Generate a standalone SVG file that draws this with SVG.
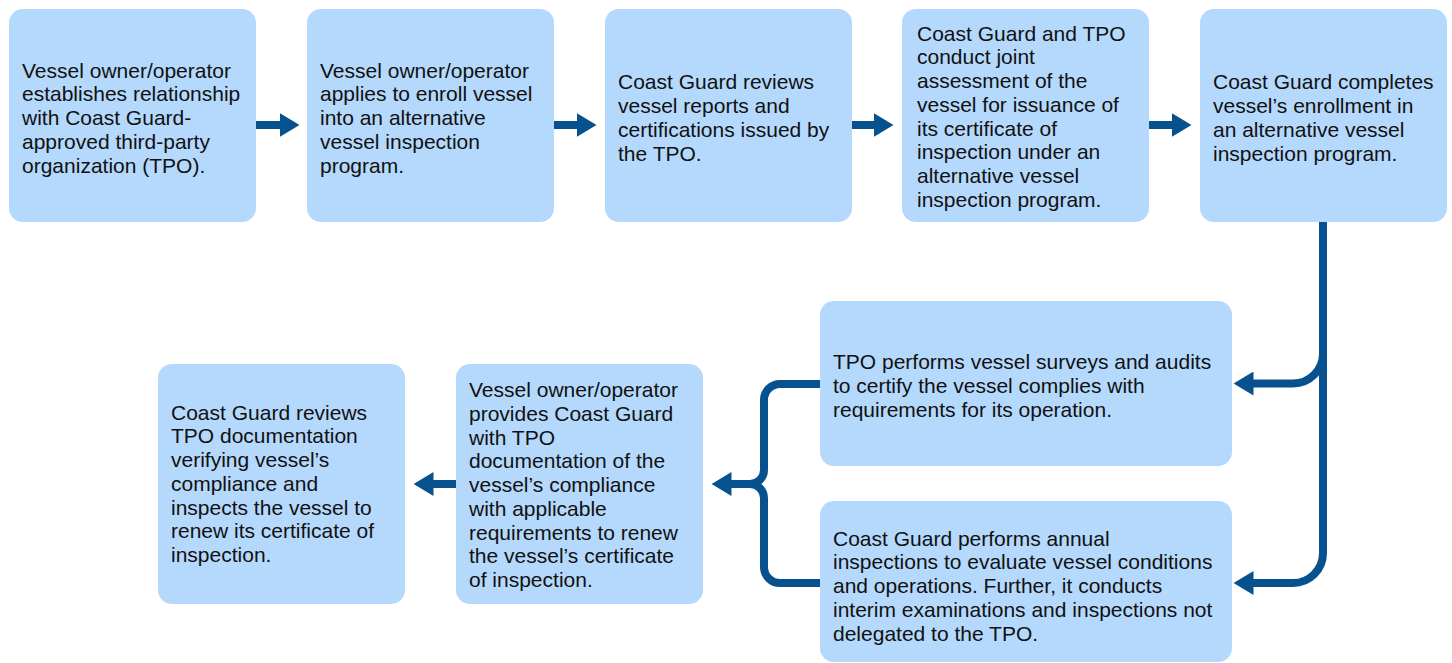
<svg xmlns="http://www.w3.org/2000/svg" width="1452" height="663" viewBox="0 0 1452 663">
  <style>
    .box { fill: #B4D9FC; }
    .lbl { font-family: "Liberation Sans", Arial, sans-serif; font-size: 21px; fill: #111111; }
    .conn { fill: none; stroke: #08518F; stroke-width: 8; }
  </style>
  <defs>
    <marker id="ah" markerUnits="userSpaceOnUse" markerWidth="20" markerHeight="24" viewBox="0 0 20 24" refX="0.5" refY="12" orient="auto">
      <path d="M0,0 L20,12 L0,24 z" fill="#08518F"/>
    </marker>
  </defs>
  <rect width="1452" height="663" fill="#ffffff"/>

  <g id="connectors">
    <path class="conn" d="M256,125 H280" marker-end="url(#ah)"/>
    <path class="conn" d="M553,125 H577" marker-end="url(#ah)"/>
    <path class="conn" d="M851,125 H874" marker-end="url(#ah)"/>
    <path class="conn" d="M1149,125 H1172" marker-end="url(#ah)"/>
    <path class="conn" d="M1323,222 V353 A30,30 0 0 1 1293,383.5 H1253" marker-end="url(#ah)"/>
    <path class="conn" d="M1323,222 V553 A30,30 0 0 1 1293,583 H1253" marker-end="url(#ah)"/>
    <path class="conn" d="M820,384 H780 A16,16 0 0 0 764,400 V470 A14,14 0 0 1 750,484 H731" marker-end="url(#ah)"/>
    <path class="conn" d="M820,583 H780 A16,16 0 0 1 764,567 V498 A14,14 0 0 0 750,484 H744"/>
    <path class="conn" d="M456,484 H433" marker-end="url(#ah)"/>
  </g>

  <g id="n1">
    <rect class="box" x="9" y="9" width="247" height="213" rx="14"/>
    <text class="lbl">
      <tspan x="22" y="77.5">Vessel owner/operator</tspan>
      <tspan x="22" y="101.25">establishes relationship</tspan>
      <tspan x="22" y="125">with Coast Guard-</tspan>
      <tspan x="22" y="148.75">approved third-party</tspan>
      <tspan x="22" y="172.5">organization (TPO).</tspan>
    </text>
  </g>

  <g id="n2">
    <rect class="box" x="307" y="9" width="247" height="213" rx="14"/>
    <text class="lbl">
      <tspan x="320" y="77.5">Vessel owner/operator</tspan>
      <tspan x="320" y="101.25">applies to enroll vessel</tspan>
      <tspan x="320" y="125">into an alternative</tspan>
      <tspan x="320" y="148.75">vessel inspection</tspan>
      <tspan x="320" y="172.5">program.</tspan>
    </text>
  </g>

  <g id="n3">
    <rect class="box" x="605" y="9" width="247" height="213" rx="14"/>
    <text class="lbl">
      <tspan x="618" y="89.4">Coast Guard reviews</tspan>
      <tspan x="618" y="113.15">vessel reports and</tspan>
      <tspan x="618" y="136.9">certifications issued by</tspan>
      <tspan x="618" y="160.65">the TPO.</tspan>
    </text>
  </g>

  <g id="n4">
    <rect class="box" x="902" y="9" width="247" height="213" rx="14"/>
    <text class="lbl">
      <tspan x="917" y="40.5">Coast Guard and TPO</tspan>
      <tspan x="917" y="64.25">conduct joint</tspan>
      <tspan x="917" y="88">assessment of the</tspan>
      <tspan x="917" y="111.75">vessel for issuance of</tspan>
      <tspan x="917" y="135.5">its certificate of</tspan>
      <tspan x="917" y="159.25">inspection under an</tspan>
      <tspan x="917" y="183">alternative vessel</tspan>
      <tspan x="917" y="206.75">inspection program.</tspan>
    </text>
  </g>

  <g id="n5">
    <rect class="box" x="1200" y="9" width="247" height="213" rx="14"/>
    <text class="lbl">
      <tspan x="1213" y="89.4">Coast Guard completes</tspan>
      <tspan x="1213" y="113.15">vessel’s enrollment in</tspan>
      <tspan x="1213" y="136.9">an alternative vessel</tspan>
      <tspan x="1213" y="160.65">inspection program.</tspan>
    </text>
  </g>

  <g id="n6">
    <rect class="box" x="820" y="301" width="412" height="165" rx="14"/>
    <text class="lbl">
      <tspan x="833" y="369">TPO performs vessel surveys and audits</tspan>
      <tspan x="833" y="392.75">to certify the vessel complies with</tspan>
      <tspan x="833" y="416.5">requirements for its operation.</tspan>
    </text>
  </g>

  <g id="n7">
    <rect class="box" x="820" y="501" width="412" height="161" rx="14"/>
    <text class="lbl">
      <tspan x="833" y="545.5">Coast Guard performs annual</tspan>
      <tspan x="833" y="569.25">inspections to evaluate vessel conditions</tspan>
      <tspan x="833" y="593">and operations. Further, it conducts</tspan>
      <tspan x="833" y="616.75">interim examinations and inspections not</tspan>
      <tspan x="833" y="640.5">delegated to the TPO.</tspan>
    </text>
  </g>

  <g id="n8">
    <rect class="box" x="456" y="364" width="247" height="240" rx="14"/>
    <text class="lbl">
      <tspan x="469" y="397">Vessel owner/operator</tspan>
      <tspan x="469" y="420.75">provides Coast Guard</tspan>
      <tspan x="469" y="444.5">with TPO</tspan>
      <tspan x="469" y="468.25">documentation of the</tspan>
      <tspan x="469" y="492">vessel’s compliance</tspan>
      <tspan x="469" y="515.75">with applicable</tspan>
      <tspan x="469" y="539.5">requirements to renew</tspan>
      <tspan x="469" y="563.25">the vessel’s certificate</tspan>
      <tspan x="469" y="587">of inspection.</tspan>
    </text>
  </g>

  <g id="n9">
    <rect class="box" x="158" y="364" width="247" height="240" rx="14"/>
    <text class="lbl">
      <tspan x="171" y="419.5">Coast Guard reviews</tspan>
      <tspan x="171" y="443.25">TPO documentation</tspan>
      <tspan x="171" y="467">verifying vessel’s</tspan>
      <tspan x="171" y="490.75">compliance and</tspan>
      <tspan x="171" y="514.5">inspects the vessel to</tspan>
      <tspan x="171" y="538.25">renew its certificate of</tspan>
      <tspan x="171" y="562">inspection.</tspan>
    </text>
  </g>
</svg>
